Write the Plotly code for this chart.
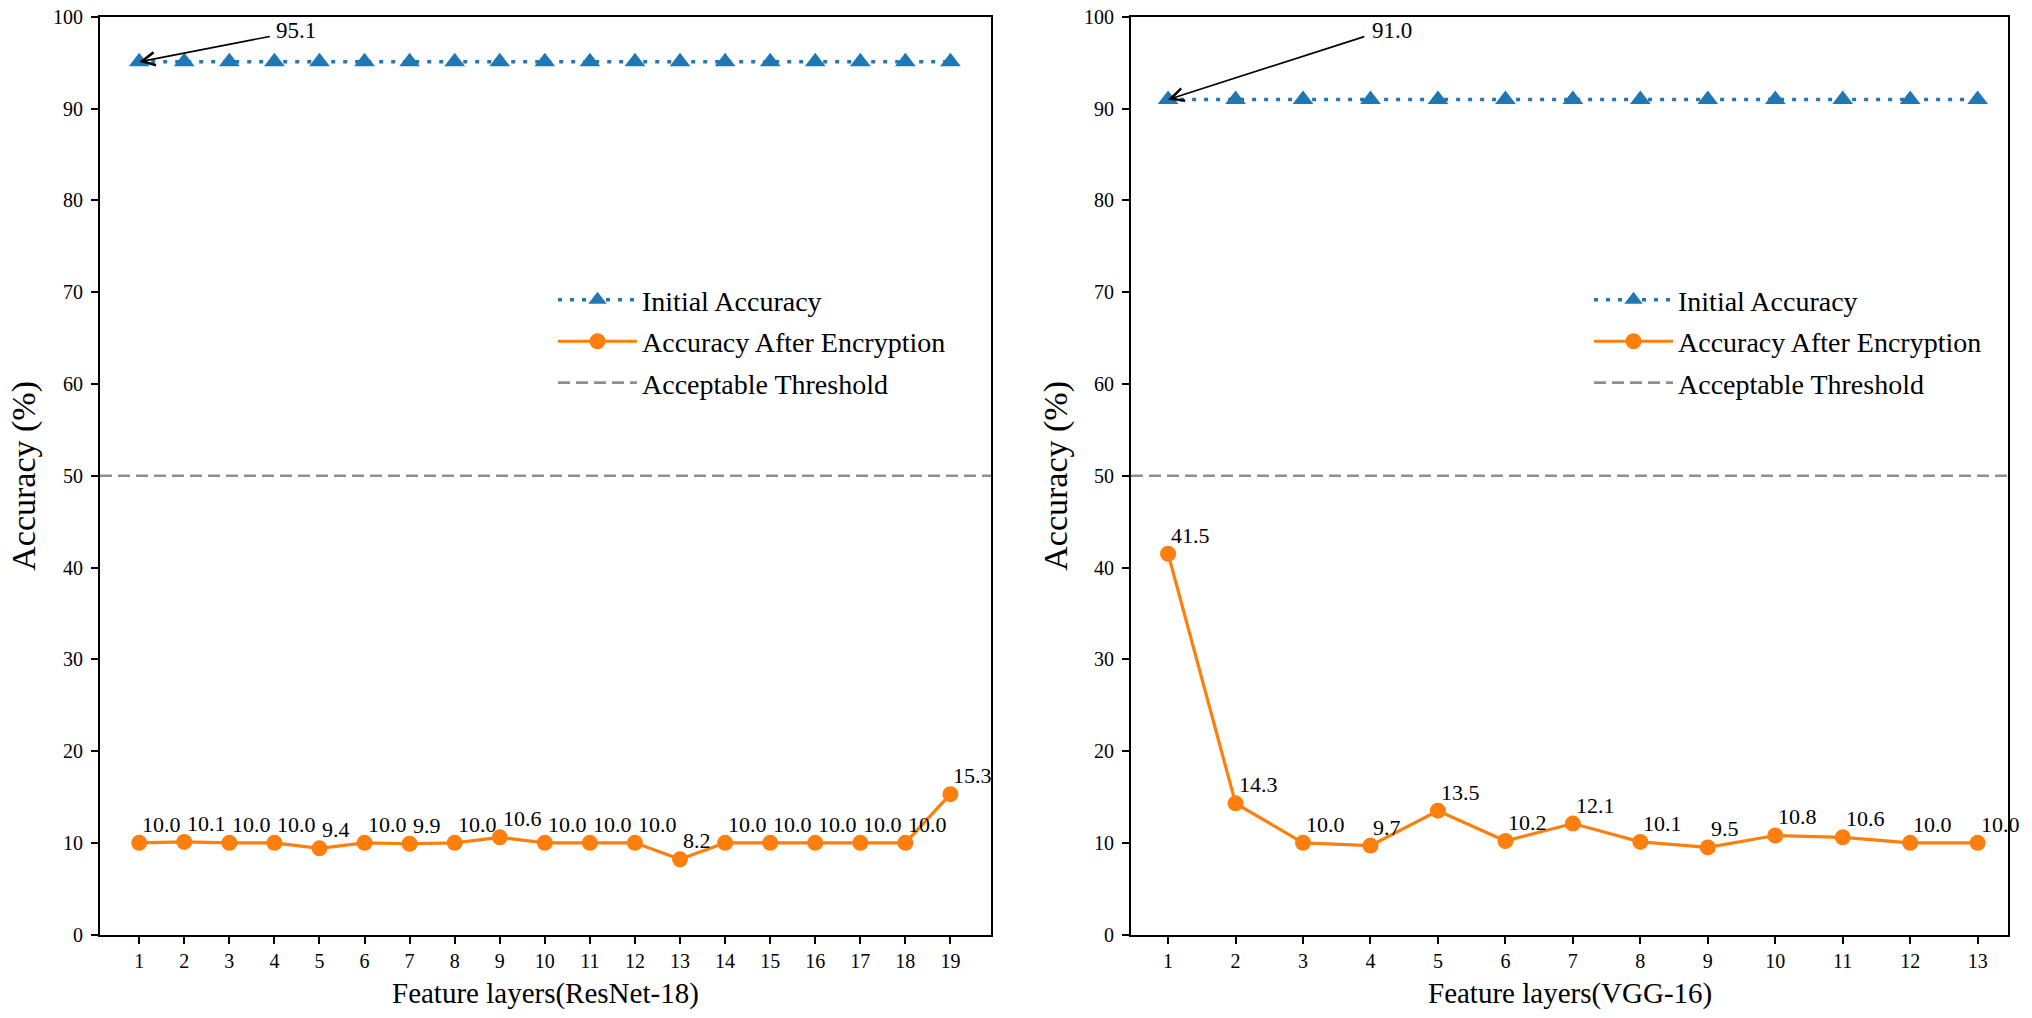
import plotly.graph_objects as go

# ---------------- data ----------------
resnet_layers = list(range(1, 20))
resnet_initial = [95.1] * 19
resnet_encrypted = [10.0, 10.1, 10.0, 10.0, 9.4, 10.0, 9.9, 10.0, 10.6, 10.0,
                    10.0, 10.0, 8.2, 10.0, 10.0, 10.0, 10.0, 10.0, 15.3]

vgg_layers = list(range(1, 14))
vgg_initial = [91.0] * 13
vgg_encrypted = [41.5, 14.3, 10.0, 9.7, 13.5, 10.2, 12.1, 10.1, 9.5, 10.8,
                 10.6, 10.0, 10.0]

threshold = 50
y_ticks = list(range(0, 101, 10))
x_titles = ["Feature layers(ResNet-18)", "Feature layers(VGG-16)"]
series_names = ["Initial Accuracy", "Accuracy After Encryption", "Acceptable Threshold"]

# ---------------- style ----------------
W, H = 2032, 1018
FONT = "Liberation Serif"
BLUE = "#1f77b4"
ORANGE = "#ff7f0e"
GRAY = "#8f8f8f"

x_ranges = [[0.13, 19.9], [0.45, 13.45]]
x_domains = [[100 / W, 991 / W], [1131 / W, 2008 / W]]
y_domain = [74 / H, 1012 / H]

fig = go.Figure()

panels = [
    (resnet_layers, resnet_initial, resnet_encrypted),
    (vgg_layers, vgg_initial, vgg_encrypted),
]

annotations = []
for i, (xs, init, enc) in enumerate(panels):
    xa = "x" if i == 0 else "x2"
    ya = "y" if i == 0 else "y2"
    leg = "legend" if i == 0 else "legend2"
    fig.add_trace(go.Scatter(
        x=xs, y=init, mode="lines+markers", name=series_names[0],
        line=dict(color=BLUE, width=3.5, dash="4px,8px"),
        marker=dict(symbol="triangle-up", size=18, color=BLUE),
        xaxis=xa, yaxis=ya, legend=leg, legendgroup=f"a{i}"))
    fig.add_trace(go.Scatter(
        x=xs, y=enc, mode="lines+markers", name=series_names[1],
        line=dict(color=ORANGE, width=3.2),
        marker=dict(symbol="circle", size=16, color=ORANGE),
        xaxis=xa, yaxis=ya, legend=leg, legendgroup=f"b{i}"))
    fig.add_trace(go.Scatter(
        x=x_ranges[i], y=[threshold, threshold], mode="lines", name=series_names[2],
        line=dict(color=GRAY, width=2.6, dash="12px,6px"),
        xaxis=xa, yaxis=ya, legend=leg, legendgroup=f"c{i}", hoverinfo="skip"))

    # data labels
    for xv, yv in zip(xs, enc):
        annotations.append(dict(
            x=xv, y=yv, xref=xa, yref=ya, text=f"{yv:.1f}", showarrow=False,
            xanchor="left", yanchor="bottom", xshift=1, yshift=4,
            font=dict(family=FONT, size=22, color="black")))
    # arrow annotation for initial accuracy
    annotations.append(dict(
        x=xs[0], y=init[0], xref=xa, yref=ya, ax=xs[0] + 2.93, ay=97.9,
        axref=xa, ayref=ya, text="", showarrow=True, arrowhead=5, arrowsize=1.6,
        arrowwidth=1.6, arrowcolor="black"))
    annotations.append(dict(
        x=xs[0] + 3, y=98.5, xref=xa, yref=ya, text=f"{init[0]:.1f}", showarrow=False,
        xanchor="left", yanchor="middle",
        font=dict(family=FONT, size=23, color="black")))
    # axis titles
    annotations.append(dict(
        x=(x_domains[i][0] + x_domains[i][1]) / 2, y=1 - 1004 / H, xref="paper", yref="paper",
        text=x_titles[i], showarrow=False, xanchor="center", yanchor="middle",
        font=dict(family=FONT, size=29, color="black")))
    annotations.append(dict(
        x=(24 if i == 0 else 1056) / W, y=(y_domain[0] + y_domain[1]) / 2,
        xref="paper", yref="paper", text="Accuracy (%)", showarrow=False, textangle=-90,
        xanchor="center", yanchor="middle",
        font=dict(family=FONT, size=34, color="black")))

axis_common = dict(
    showline=True, linecolor="black", linewidth=2, mirror=True,
    ticks="outside", ticklen=7, tickwidth=1.5, tickcolor="black",
    showgrid=False, zeroline=False, ticklabeloverflow="allow",
    tickfont=dict(family=FONT, size=20, color="black"),
)

legend_common = dict(
    xanchor="left", yanchor="top", bgcolor="rgba(0,0,0,0)", tracegroupgap=2,
    itemwidth=79, font=dict(family=FONT, size=28, color="black"),
)

fig.update_layout(
    width=W, height=H,
    margin=dict(l=0, r=0, t=0, b=0),
    paper_bgcolor="white", plot_bgcolor="white",
    annotations=annotations,
    xaxis=dict(domain=x_domains[0], range=x_ranges[0], tickmode="array",
               tickvals=resnet_layers, anchor="y", **axis_common),
    yaxis=dict(domain=y_domain, range=[0, 100], tickmode="array",
               tickvals=y_ticks, anchor="x", ticklabelstandoff=4, **axis_common),
    xaxis2=dict(domain=x_domains[1], range=x_ranges[1], tickmode="array",
                tickvals=vgg_layers, anchor="y2", **axis_common),
    yaxis2=dict(domain=y_domain, range=[0, 100], tickmode="array",
                tickvals=y_ticks, anchor="x2", ticklabelstandoff=4, **axis_common),
    legend=dict(x=553 / W, y=1 - 270 / H, **legend_common),
    legend2=dict(x=1589 / W, y=1 - 270 / H, **legend_common),
    showlegend=True,
)

fig.write_html("out.html", config={"displayModeBar": False},
               post_script="document.body.style.margin='0';")
